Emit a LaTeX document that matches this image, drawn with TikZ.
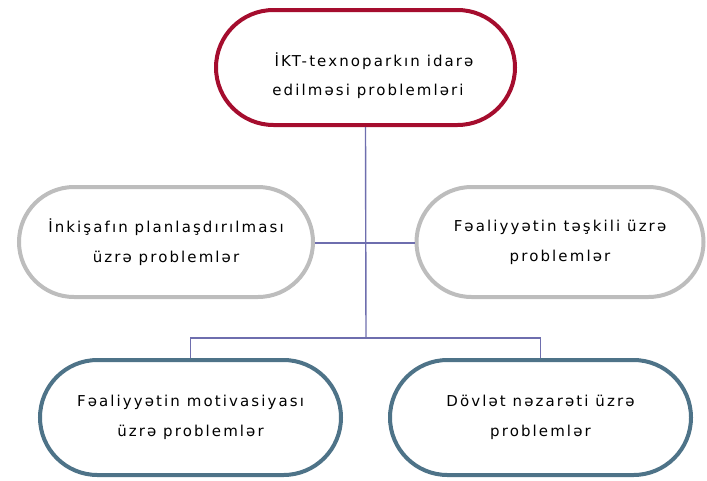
\documentclass[tikz,border=0pt]{standalone}
\usepackage{fontspec}
\usetikzlibrary{shapes.misc}
\setmainfont{DejaVu Sans}[LetterSpace=14]
\definecolor{topred}{HTML}{A50D2E}
\definecolor{midgray}{HTML}{BDBDBD}
\definecolor{botblue}{HTML}{4E7388}
\definecolor{linkc}{HTML}{6E6EAE}
\tikzset{
  pill/.style={draw, line width=4pt, rounded rectangle, fill=white,
    align=center, inner sep=0pt,
    font=\fontsize{15pt}{30pt}\selectfont},
  topbox/.style={pill, draw=topred, minimum width=299pt, minimum height=115pt},
  midbox/.style={pill, draw=midgray, minimum width=294pt, minimum height=110pt},
  botbox/.style={pill, draw=botblue, minimum width=301pt, minimum height=115pt},
  link/.style={draw=linkc, line width=1.4pt}
}
\begin{document}
\begin{tikzpicture}[x=1pt,y=-1pt]
\useasboundingbox (0,0) rectangle (707,480);
\coordinate (j1) at (366,338);
\coordinate (j0) at (366,243);
\node[topbox] (top) at (365.5,67.5) {};
\node[font=\fontsize{15pt}{29pt}\selectfont, align=center, inner sep=0pt] (toptext) at (368,76) {\hspace*{12pt}İKT-texnoparkın idarə\\edilməsi problemləri};
\node[midbox] (left) at (166,242) {İnkişafın planlaşdırılması\\üzrə problemlər};
\node[midbox, minimum width=287pt] (right) at (560,242) {Fəaliyyətin təşkili üzrə\\problemlər};
\node[botbox] (bl) at (190.5,417.5) {Fəaliyyətin motivasiyası\\üzrə problemlər};
\node[botbox] (br) at (540.5,417.5) {Dövlət nəzarəti üzrə\\problemlər};
\draw[link] (top.south) -- (j1);
\draw[link] (left.east |- j0) -- (right.west |- j0);
\draw[link] (bl.north) -- (bl.north |- j1) -- (br.north |- j1) -- (br.north);
\end{tikzpicture}
\end{document}
